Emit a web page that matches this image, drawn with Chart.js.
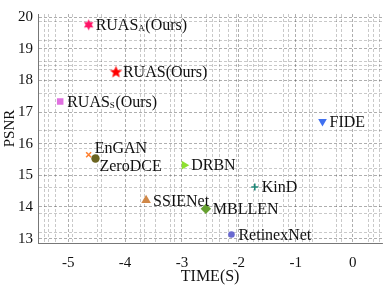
<!DOCTYPE html>
<html>
<head>
<meta charset="utf-8">
<script src="https://cdn.jsdelivr.net/npm/chart.js@4/dist/chart.umd.min.js"></script>
<style>
  html, body { margin: 0; padding: 0; background: #fff; }
  #wrap { width: 391px; height: 285px; }
</style>
</head>
<body>
<div id="wrap"><canvas id="myChart" width="391" height="285"></canvas></div>
<script>
// data
const methods = ["RUAS_A(Ours)", "RUAS(Ours)", "RUAS_S(Ours)", "FIDE", "EnGAN", "ZeroDCE",
                 "DRBN", "SSIENet", "KinD", "MBLLEN", "RetinexNet"];
const timeVals = [-4.64, -4.16, -5.14, -0.53, -4.64, -4.52, -2.96, -3.63, -1.72, -2.58, -2.13];
const psnrVals = [19.76, 18.26, 17.33, 16.70, 15.65, 15.53, 15.32, 14.21, 14.63, 13.94, 13.13];

// tick labels and the extra (minor) grid lines
const xTicks = [-5, -4, -3, -2, -1, 0];
const yTicks = [13, 14, 15, 16, 17, 18, 19, 20];
const xMinor = [-5.41, -5.34, -5.22, -4.93, -4.48, -4.42, -3.72, -3.66, -3.47, -3.2, -3.13,
                -2.56, -2.47, -2.34, -2.18, -2.04, -1.84, -1.75, -1.66, -1.58, -1.22, -1.13,
                -0.89, -0.76, -0.7, -0.29, -0.19, 0.27, 0.36, 0.48];
const yMinor = [19.85, 19.25, 18.6, 18.48, 18.35, 17.6, 16.42, 15.85, 15.22, 14.6, 13.8, 13.18];

const colors = ["#ff1466", "#ff0000", "#e070e0", "#4070f0", "#ff8030", "#6b6420",
                "#8ee030", "#d08848", "#208878", "#66a030", "#6a6ad0"];

function starCanvas(n, color, outer, inner) {
  const c = document.createElement("canvas");
  const s = Math.ceil(outer * 2) + 2;
  c.width = s; c.height = s;
  const g = c.getContext("2d");
  g.fillStyle = color;
  g.beginPath();
  for (let i = 0; i < n * 2; i++) {
    const r = i % 2 === 0 ? outer : inner;
    const a = -Math.PI / 2 + i * Math.PI / n;
    const px = s / 2 + r * Math.cos(a), py = s / 2 + r * Math.sin(a);
    if (i === 0) g.moveTo(px, py); else g.lineTo(px, py);
  }
  g.closePath();
  g.fill();
  return c;
}

const styles = [starCanvas(6, colors[0], 5.5, 3), starCanvas(5, colors[1], 6.5, 2.8), "rect", "triangle",
                "crossRot", "circle", "triangle", "triangle", "cross", "rectRot", "circle"];
const rotations = [0, 0, 0, 180, 0, 0, 90, 0, 0, 0, 0];
const radii = [6, 7, 4.6, 5, 3.5, 4.2, 5, 5.5, 3.5, 5.2, 3.3];

// label offsets from the marker
const labelOffsets = {
  "EnGAN": [6, -7],
  "ZeroDCE": [4, 7]
};

const serif = "'Liberation Serif', 'Times New Roman', serif";

const labelPlugin = {
  id: "pointLabels",
  afterDatasetsDraw(chart) {
    const ctx = chart.ctx;
    ctx.save();
    ctx.fillStyle = "#111";
    ctx.textBaseline = "middle";
    chart.data.datasets.forEach((ds, i) => {
      const pt = chart.getDatasetMeta(i).data[0];
      const off = labelOffsets[ds.label] || [7, 0];
      let x = pt.x + off[0];
      const y = pt.y + off[1] + 1;
      const m = ds.label.match(/^([^_]+)_(\w)(.*)$/);
      if (m) {
        ctx.font = "16px " + serif;
        ctx.fillText(m[1], x, y);
        x += ctx.measureText(m[1]).width;
        ctx.font = "9px " + serif;
        ctx.fillText(m[2], x, y + 3);
        x += ctx.measureText(m[2]).width + 0.5;
        ctx.font = "16px " + serif;
        ctx.fillText(m[3], x, y);
      } else {
        ctx.font = "16px " + serif;
        ctx.fillText(ds.label, x, y);
      }
    });
    ctx.restore();
  }
};

const datasets = methods.map((name, i) => ({
  label: name,
  data: [{ x: timeVals[i], y: psnrVals[i] }],
  pointStyle: styles[i],
  rotation: rotations[i],
  pointRadius: radii[i],
  pointHoverRadius: radii[i],
  backgroundColor: colors[i],
  borderColor: colors[i],
  borderWidth: (styles[i] === "cross" || styles[i] === "crossRot") ? 1.6 : 0
}));

function gridColor(majors) {
  return ctx => majors.includes(ctx.tick.value) ? "rgba(0,0,0,0.4)" : "rgba(0,0,0,0.27)";
}

new Chart("myChart", {
  type: "scatter",
  data: { datasets: datasets },
  options: {
    responsive: false,
    animation: false,
    events: [],
    layout: { padding: { top: 2, right: 1, left: 0, bottom: 0 } },
    plugins: { legend: { display: false }, tooltip: { enabled: false } },
    scales: {
      x: {
        type: "linear",
        min: -5.53,
        max: 0.52,
        afterBuildTicks: s => { s.ticks = xTicks.concat(xMinor).sort((a, b) => a - b).map(v => ({ value: v })); },
        afterFit: s => { s.height = 42; },
        ticks: {
          autoSkip: false,
          maxRotation: 0,
          padding: 11,
          color: "#111",
          font: { family: serif, size: 15 },
          callback: v => xTicks.includes(v) ? String(v) : ""
        },
        grid: { color: gridColor(xTicks), lineWidth: 0.8, drawTicks: false },
        border: { display: true, color: "#777", width: 1, dash: [3, 2] },
        title: {
          display: true,
          text: "TIME(S)",
          color: "#111",
          font: { family: serif, size: 16 },
          padding: { top: 0, bottom: -1 }
        }
      },
      y: {
        type: "linear",
        min: 12.86,
        max: 20.1,
        afterBuildTicks: s => { s.ticks = yTicks.concat(yMinor).sort((a, b) => a - b).map(v => ({ value: v })); },
        afterFit: s => { s.width = 38; },
        ticks: {
          autoSkip: false,
          padding: 5,
          color: "#111",
          font: { family: serif, size: 15 },
          callback: v => yTicks.includes(v) ? String(v) : ""
        },
        grid: { color: gridColor(yTicks), lineWidth: 0.8, drawTicks: false },
        border: { display: true, color: "#777", width: 1, dash: [3, 2] },
        title: {
          display: true,
          text: "PSNR",
          color: "#111",
          font: { family: serif, size: 15 },
          padding: { top: 1, bottom: 0 }
        }
      }
    }
  },
  plugins: [labelPlugin]
});
</script>
</body>
</html>
